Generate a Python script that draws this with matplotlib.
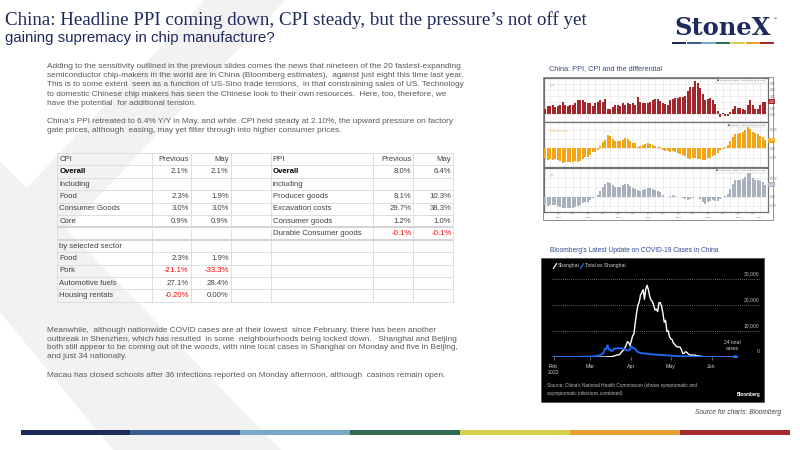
import matplotlib
matplotlib.use("Agg")
import matplotlib.pyplot as plt
import matplotlib.dates as mdates
import matplotlib.transforms as mtransforms
from matplotlib.patches import Polygon, Rectangle
import numpy as np
import pandas as pd

# ---------------- text content ----------------
title = "China: Headline PPI coming down, CPI steady, but the pressure\u2019s not off yet"
subtitle = "gaining supremacy in chip manufacture?"
para1 = [
    "Adding to the sensitivity outlined in the previous slides comes the news that nineteen of the 20 fastest-expanding",
    "semiconductor chip-makers in the world are in China (Bloomberg estimates),  against just eight this time last year.",
    "This is to some extent  seen as a function of US-Sino trade tensions,  in that constraining sales of US. Technology",
    "to domestic Chinese chip makers has seen the Chinese look to their own resources.  Here, too, therefore, we",
    "have the potential  for additional tension.",
    "",
    "China\u2019s PPI retreated to 6.4% Y/Y in May, and while  CPI held steady at 2.10%, the upward pressure on factory",
    "gate prices, although  easing, may yet filter through into higher consumer prices.",
]
para2 = [
    "Meanwhile,  although nationwide COVID cases are at their lowest  since February, there has been another",
    "outbreak in Shenzhen, which has resulted  in some  neighbourhoods being locked down.   Shanghai and Beijing",
    "both still appear to be coming out of the woods, with nine local cases in Shanghai on Monday and five in Beijing,",
    "and just 34 nationally.",
]
para3 = "Macau has closed schools after 36 infections reported on Monday afternoon, although  casinos remain open."

# ---------------- table data ----------------
table_header = ["CPI", "Previous", "May", "", "PPI", "Previous", "May"]
cpi_rows = ["Overall", "including", "Food", "Consumer Goods", "Core", "",
            "by selected sector", "Food", "Pork", "Automotive fuels", "Housing rentals"]
cpi_prev = ["2.1%", "", "2.3%", "3.0%", "0.9%", "", "", "2.3%", "-21.1%", "27.1%", "-0.20%"]
cpi_may = ["2.1%", "", "1.9%", "3.0%", "0.9%", "", "", "1.9%", "-33.3%", "28.4%", "0.00%"]
ppi_rows = ["Overall", "including", "Producer goods", "Excavation costs", "Consumer goods",
            "Durable Consumer goods"]
ppi_prev = ["8.0%", "", "8.1%", "29.7%", "1.2%", "-0.1%"]
ppi_may = ["6.4%", "", "10.3%", "38.3%", "1.0%", "-0.1%"]

# ---------------- PPI / CPI chart data (monthly, Jan 2015 - May 2022) ----------------
months = pd.date_range("2015-01-01", "2022-05-01", freq="MS")
cpi_yoy = [0.8, 1.4, 1.4, 1.5, 1.2, 1.4, 1.6, 2.0, 1.6, 1.3, 1.5, 1.6,
           1.8, 2.3, 2.3, 2.3, 2.0, 1.9, 1.8, 1.3, 1.9, 2.1, 2.3, 2.1,
           2.5, 0.8, 0.9, 1.2, 1.5, 1.5, 1.4, 1.8, 1.6, 1.9, 1.7, 1.8,
           1.5, 2.9, 2.1, 1.8, 1.8, 1.9, 2.1, 2.3, 2.5, 2.5, 2.2, 1.9,
           1.7, 1.5, 2.3, 2.5, 2.7, 2.7, 2.8, 2.8, 3.0, 3.8, 4.5, 4.5,
           5.4, 5.2, 4.3, 3.3, 2.4, 2.5, 2.7, 2.4, 1.7, 0.5, -0.5, 0.2,
           -0.3, -0.2, 0.4, 0.9, 1.3, 1.1, 1.0, 0.8, 0.7, 1.5, 2.3, 1.5,
           0.9, 0.9, 1.5, 2.1, 2.1]
ppi_yoy = [-4.3, -4.8, -4.6, -4.6, -4.6, -4.8, -5.4, -5.9, -5.9, -5.9, -5.9, -5.9,
           -5.3, -4.9, -4.3, -3.4, -2.8, -2.6, -1.7, -0.8, 0.1, 1.2, 3.3, 5.5,
           6.9, 7.8, 7.6, 6.4, 5.5, 5.5, 5.5, 6.3, 6.9, 6.9, 5.8, 4.9,
           4.3, 3.7, 3.1, 3.4, 4.1, 4.7, 4.6, 4.1, 3.6, 3.3, 2.7, 0.9,
           0.1, 0.1, 0.4, 0.9, 0.6, 0.0, -0.3, -0.8, -1.2, -1.6, -1.4, -0.5,
           0.1, -0.4, -1.5, -3.1, -3.7, -3.0, -2.4, -2.0, -2.1, -2.1, -1.5, -0.4,
           0.3, 1.7, 4.4, 6.8, 9.0, 8.8, 9.0, 9.5, 10.7, 13.5, 12.9, 10.3,
           9.1, 8.8, 8.3, 8.0, 6.4]
diff_yoy = [-5.1, -6.2, -6.0, -6.1, -5.8, -6.2, -7.0, -7.9, -7.5, -7.2, -7.4, -7.5,
            -7.1, -7.2, -6.6, -5.7, -4.8, -4.5, -3.5, -2.1, -1.8, -0.9, 1.0, 3.4,
            4.4, 7.0, 6.7, 5.2, 4.0, 4.0, 4.1, 4.5, 5.3, 5.0, 4.1, 3.1,
            2.8, 0.8, 1.0, 1.6, 2.3, 2.8, 2.5, 1.8, 1.1, 0.8, 0.5, -1.0,
            -1.6, -1.4, -1.9, -1.6, -2.1, -2.7, -3.1, -3.6, -4.2, -5.4, -5.9, -5.0,
            -5.3, -5.6, -5.8, -6.4, -6.1, -5.5, -5.1, -4.4, -3.8, -2.6, -1.0, -0.6,
            0.6, 1.9, 4.0, 5.9, 7.7, 7.7, 8.0, 8.7, 10.0, 12.0, 10.6, 8.8,
            8.2, 7.9, 6.8, 5.9, 4.3]

# ---------------- COVID chart data ----------------
sh_dates = ["2022-02-01", "2022-02-15", "2022-03-01", "2022-03-05", "2022-03-10", "2022-03-13",
            "2022-03-15", "2022-03-17", "2022-03-19", "2022-03-21", "2022-03-23", "2022-03-25",
            "2022-03-26", "2022-03-27", "2022-03-28", "2022-03-29", "2022-03-30", "2022-03-31",
            "2022-04-01", "2022-04-02", "2022-04-03", "2022-04-04", "2022-04-05", "2022-04-06",
            "2022-04-07", "2022-04-08", "2022-04-09", "2022-04-10", "2022-04-11", "2022-04-12",
            "2022-04-13", "2022-04-14", "2022-04-15", "2022-04-16", "2022-04-17", "2022-04-18",
            "2022-04-19", "2022-04-20", "2022-04-21", "2022-04-22", "2022-04-23", "2022-04-24",
            "2022-04-25", "2022-04-26", "2022-04-27", "2022-04-28", "2022-04-29", "2022-04-30",
            "2022-05-01", "2022-05-02", "2022-05-03", "2022-05-04", "2022-05-05", "2022-05-06",
            "2022-05-07", "2022-05-08", "2022-05-09", "2022-05-10", "2022-05-11", "2022-05-12",
            "2022-05-13", "2022-05-14", "2022-05-15", "2022-05-17", "2022-05-19", "2022-05-21",
            "2022-05-23", "2022-05-25", "2022-05-27", "2022-05-29", "2022-05-31", "2022-06-05",
            "2022-06-10", "2022-06-19"]
sh_cases = [5, 5, 5, 20, 75, 150,
            200, 260, 500, 900, 1000, 2300,
            2700, 3500, 4500, 6000, 5700, 4500,
            6300, 8200, 9000, 13300, 17000, 20000,
            21200, 24000, 24900, 26000, 22300, 26300,
            27700, 25900, 23400, 22000, 21500, 20000,
            18200, 18500, 17600, 21000, 21000, 19600,
            17000, 13500, 14200, 10000, 10200, 7900,
            7100, 6800, 5400, 5000, 4300, 4000,
            4000, 3900, 3000, 1500, 1450, 2100,
            2000, 1400, 940, 820, 870, 570,
            480, 290, 130, 90, 15, 10,
            10, 8]
ex_dates = ["2022-02-01", "2022-02-10", "2022-02-20", "2022-02-25", "2022-03-01", "2022-03-04",
            "2022-03-07", "2022-03-09", "2022-03-11", "2022-03-12", "2022-03-13", "2022-03-14",
            "2022-03-15", "2022-03-16", "2022-03-17", "2022-03-18", "2022-03-19", "2022-03-20",
            "2022-03-22", "2022-03-24", "2022-03-26", "2022-03-28", "2022-03-30", "2022-03-31",
            "2022-04-01", "2022-04-02", "2022-04-03", "2022-04-04", "2022-04-05", "2022-04-06",
            "2022-04-08", "2022-04-10", "2022-04-13", "2022-04-16", "2022-04-20", "2022-04-25",
            "2022-04-30", "2022-05-05", "2022-05-10", "2022-05-15", "2022-05-20", "2022-05-25",
            "2022-05-31", "2022-06-05", "2022-06-10", "2022-06-15", "2022-06-19"]
ex_cases = [100, 150, 150, 250, 300, 400,
            600, 1000, 1700, 3300, 3200, 4700,
            3000, 2900, 2400, 2500, 3400, 3300,
            3500, 3500, 3300, 2800, 2600, 3000,
            4300, 3700, 3500, 3200, 2400, 2000,
            1700, 1500, 1400, 1200, 1000, 850,
            650, 500, 400, 300, 250, 200,
            100, 60, 40, 30, 24]
covid_yticks = [0, 10000, 20000, 30000]
covid_xticks = ["2022-02-01", "2022-03-01", "2022-04-01", "2022-05-01", "2022-06-01"]
covid_xlabels = ["Feb\n2022", "Mar", "Apr", "May", "Jun"]

# ---------------- figure ----------------
W, H = 800, 450
fig = plt.figure(figsize=(8, 4.5), dpi=100)
fig.patch.set_facecolor("white")
renderer = fig.canvas.get_renderer()

NAVY = "#1f2a5c"
BODY = "#595959"
SANS = ["Liberation Sans", "DejaVu Sans"]
NARROW = ["Liberation Sans Narrow", "Liberation Sans", "DejaVu Sans"]


def px(x0, y0, x1, y1):
    return [x0 / W, 1 - y1 / H, (x1 - x0) / W, (y1 - y0) / H]


def fit_size(s, width, **kw):
    t = fig.text(0, 0, s, fontsize=10, **kw)
    w = t.get_window_extent(renderer).width
    t.remove()
    return 10.0 * width / w


bg = fig.add_axes([0, 0, 1, 1], zorder=0)
bg.set_xlim(0, W)
bg.set_ylim(H, 0)
bg.axis("off")
fg = fig.add_axes([0, 0, 1, 1], zorder=30)
fg.set_xlim(0, W)
fg.set_ylim(H, 0)
fg.axis("off")

# background chevron
GRAYBG = "#f2f2f2"
bg.add_patch(Polygon([(205, 0), (285, 0), (0, 300), (0, 216)], closed=True,
                     facecolor=GRAYBG, edgecolor="none", zorder=0.5))
bg.add_patch(Polygon([(0, 161), (281, 450), (113, 450), (0, 312)], closed=True,
                     facecolor=GRAYBG, edgecolor="none", zorder=0.5))

# titles
SERIF = ["Liberation Serif", "DejaVu Serif"]
fs = fit_size(title, 612, family=SERIF) * 0.95
bg.text(5, 20, title, fontsize=fs, family=SERIF, color=NAVY, va="center", ha="left", zorder=3)
fs = fit_size(subtitle, 272, family=SANS)
bg.text(5, 38, subtitle, fontsize=fs, family=SANS, color=NAVY, va="center", ha="left", zorder=3)

# logo
fs = fit_size("StoneX", 96, family=["DejaVu Serif"], weight="bold")
bg.text(674, 35, "StoneX", fontsize=fs, family=["DejaVu Serif"], weight="bold",
        color=NAVY, va="baseline", ha="left", zorder=3)
bg.text(773, 20, "\u2122", fontsize=3, family=SANS, color=NAVY, zorder=3)
stripe_cols = ["#1f2a5c", "#3a5f8f", "#7ba7c9", "#2e6b4f", "#d9cf4f", "#e8a030", "#a4282f"]
seg = (775 - 672) / 7
for i, c in enumerate(stripe_cols):
    bg.add_patch(Rectangle((672 + i * seg, 41.5), seg - 0.6, 2.2, facecolor=c,
                           edgecolor="none", zorder=3))

# body text
fs_body = fit_size(para1[0], 410, family=SANS)
for i, line in enumerate(para1):
    if line:
        bg.text(47, 66.7 + 9.15 * i, line, fontsize=fs_body, family=SANS, color=BODY,
                va="center", ha="left", zorder=3)
for i, line in enumerate(para2):
    bg.text(47, 330.7 + 8.5 * i, line, fontsize=fs_body, family=SANS, color=BODY,
            va="center", ha="left", zorder=3)
bg.text(47, 375.7, para3, fontsize=fs_body, family=SANS, color=BODY,
        va="center", ha="left", zorder=3)

# table
col_x = [57.3, 151.7, 190.7, 230.7, 270.7, 373.3, 413.3, 453.3]
ty0, rh, nrows = 153.0, 12.4, 12
GRID = "#d9d9d9"
for k in range(nrows + 1):
    y = ty0 + rh * k
    lw, c = (1.5, "#d4d4d4") if k in (6, 7) else (0.6, GRID)
    bg.plot([col_x[0], col_x[-1]], [y, y], color=c, lw=lw, solid_capstyle="butt", zorder=2)
for x in col_x:
    bg.plot([x, x], [ty0, ty0 + rh * nrows], color=GRID, lw=0.6, zorder=2)

fs_tab = fit_size("Durable Consumer goods", 89, family=SANS)
TXT = "#404040"


def cell(row, col, s, align, bold=False):
    if not s:
        return
    y = ty0 + rh * (row + 0.5)
    color = "#ff0000" if s.startswith("-") else ("#000000" if bold else TXT)
    if align == "left":
        x, ha = col_x[col] + 2, "left"
    else:
        x, ha = col_x[col + 1] - 2, "right"
    bg.text(x, y, s, fontsize=fs_tab, family=SANS, color=color, ha=ha, va="center",
            weight="bold" if bold else "normal", zorder=3)


for j, s in enumerate(table_header):
    cell(0, j, s, "left" if j in (0, 3, 4) else "right")
for r, (lab, pv, mv) in enumerate(zip(cpi_rows, cpi_prev, cpi_may), start=1):
    cell(r, 0, lab, "left", bold=(lab == "Overall"))
    cell(r, 1, pv, "right")
    cell(r, 2, mv, "right")
for r, (lab, pv, mv) in enumerate(zip(ppi_rows, ppi_prev, ppi_may), start=1):
    cell(r, 4, lab, "left", bold=(lab == "Overall"))
    cell(r, 5, pv, "right")
    cell(r, 6, mv, "right")

# ---------------- PPI / CPI chart ----------------
t1 = "China: PPI, CPI and the differential"
fs = fit_size(t1, 114, family=SANS)
bg.text(549, 69, t1, fontsize=fs, family=SANS, color="#3c4b7c", va="center", zorder=3)
bg.add_patch(Rectangle((543, 77), 230, 143, facecolor="white", edgecolor="#7f7f7f",
                       lw=0.6, zorder=1))

idx = np.arange(len(months))
qidx = [i for i, m in enumerate(months) if m.month in (3, 6, 9, 12)]
lidx = [i for i, m in enumerate(months) if m.month in (6, 12)]
panels = [
    (cpi_yoy, "#a0282d", (77.7, 121.7), (-1.2, 6.0), [0, 1, 2, 3, 4, 5], "CPI", "#d9a3a3",
     "CNCPIYOY Index - Last Price (R1)", 0.8),
    (diff_yoy, "#f2a516", (122.3, 167.0), (-10.1, 14.0), [-5, 0, 5, 10], "Differential",
     "#f7c46a", "PPI-CPI - Last Price (R1)", 2.6),
    (ppi_yoy, "#a9b1bc", (167.7, 211.7), (-8.1, 15.7), [-5, 0, 5, 10], "PPI", "#b0b0b0",
     "CHEFTYOY Index - Last Price (R1)", 2.6),
]
for k, (vals, col, (y0, y1), ylim, yt, lab, labcol, legtxt, gap) in enumerate(panels):
    ax = fig.add_axes(px(544, y0, 768, y1), zorder=5)
    ax.set_facecolor("white")
    ax.bar(idx, vals, width=0.78, color=col, edgecolor="none", zorder=3)
    ax.set_xlim(-0.5, 89.1)
    ax.set_ylim(*ylim)
    ax.set_yticks(yt)
    ax.yaxis.tick_right()
    ax.set_yticklabels(["" if abs(v - vals[-1]) < gap else f"{v:.2f}" for v in yt])
    ax.tick_params(axis="y", labelsize=2.0, colors="#707070", length=1, width=0.3, pad=0.5)
    ax.set_xticks(qidx)
    for v in yt:
        ax.axhline(v, color="#e4e4e4", lw=0.4, zorder=1)
    for q in qidx:
        ax.axvline(q, color="#e4e4e4", lw=0.4, zorder=1)
    for sp in ax.spines.values():
        sp.set_color("#707070")
        sp.set_linewidth(0.9)
    if k < 2:
        ax.tick_params(axis="x", length=0, labelbottom=False)
    else:
        ax.set_xticklabels([months[i].strftime("%b") if i in lidx else "" for i in qidx])
        ax.tick_params(axis="x", labelsize=1.7, colors="#606060", length=0.8, width=0.3, pad=0.3)
        tr = mtransforms.blended_transform_factory(ax.transData, ax.transAxes)
        for yr in sorted(set(m.year for m in months)):
            ii = [i for i, m in enumerate(months) if m.year == yr]
            ax.text(np.mean(ii), -0.115, str(yr), transform=tr, fontsize=1.7,
                    color="#606060", ha="center", va="top")
        ax.text(0.0, -0.165, "Bloomberg China PPI / CPI YoY monthly", transform=ax.transAxes,
                fontsize=1.5, color="#888888", ha="left", va="top")
        ax.text(0.62, -0.165, "Copyright\u00a9 2022 Bloomberg Finance L.P.", transform=ax.transAxes,
                fontsize=1.5, color="#888888", ha="center", va="top")
    ax.text(0.025, 0.86, lab, transform=ax.transAxes, fontsize=2.4, color=labcol,
            ha="left", va="top")
    ax.text(0.985, 0.95, "\u25a0 " + legtxt + f" {vals[-1]:.2f}", transform=ax.transAxes,
            fontsize=1.7, color="#555555", ha="right", va="top",
            bbox=dict(facecolor="white", edgecolor="#c0c0c0", lw=0.3, pad=0.6))
    ax.text(1.003, vals[-1], f"{vals[-1]:.2f}",
            transform=mtransforms.blended_transform_factory(ax.transAxes, ax.transData),
            fontsize=2.0, color="white", ha="left", va="center", clip_on=False, zorder=6,
            bbox=dict(facecolor=col, edgecolor="none", pad=0.4))

# ---------------- COVID chart ----------------
ct = "Bloomberg\u2019s Latest Update on COVID-19 Cases in China"
fs = fit_size(ct, 167, family=SANS)
bg.text(550, 250.7, ct, fontsize=fs, family=SANS, color="#2e4a8a", va="center", zorder=3)
bg.add_patch(Rectangle((541, 258), 223, 144, facecolor="black", edgecolor="#555555",
                       lw=0.6, zorder=1))

feb1 = pd.Timestamp("2022-02-01")
cax = fig.add_axes(px(552, 279.3, 760, 357.3), zorder=6)
cax.patch.set_alpha(0)
x0 = mdates.date2num(feb1) - 1.2
x1 = mdates.date2num(feb1) + 156.7
cax.set_xlim(x0, x1)
cax.set_ylim(0, 30000)
for sp in cax.spines.values():
    sp.set_visible(False)
cax.set_yticks([])
for v in covid_yticks[1:]:
    cax.axhline(v, color="#8a8a8a", lw=0.6, ls=(0, (1, 1.5)), zorder=1, clip_on=False)
cax.axhline(0, color="#9a9a9a", lw=0.6, zorder=1)
fs_c = fit_size("Total ex Shanghai", 40, family=NARROW)
blend = mtransforms.blended_transform_factory(cax.transAxes, cax.transData)
for v in covid_yticks:
    cax.text(0.997, v + 1200, f"{v:,}", transform=blend, fontsize=fs_c, family=NARROW,
             color="#bfbfbf", ha="right", va="bottom", clip_on=False)
cax.plot(pd.to_datetime(sh_dates), sh_cases, color="white", lw=1.0, zorder=3)
cax.plot(pd.to_datetime(ex_dates), ex_cases, color="#1f6bff", lw=1.3, zorder=4)
cax.plot(pd.to_datetime(ex_dates[-1:]), ex_cases[-1:], "o", color="#1f6bff", ms=2.6, zorder=5)
cax.set_xticks(pd.to_datetime(covid_xticks))
cax.set_xticklabels(covid_xlabels, family=NARROW, fontsize=fs_c * 1.05, color="#cfcfcf",
                    linespacing=1.35)
cax.tick_params(axis="x", length=2, width=0.5, color="#9a9a9a", pad=2.5)
cax.text(mdates.date2num(pd.Timestamp(ex_dates[-1])) - 2, 2600, "24 total\ncases",
         fontsize=fs_c, family=NARROW, color="#d0d0d0", ha="center", va="bottom",
         linespacing=1.2)

# legend
fg.plot([553.5, 556.5], [268.3, 263.8], color="white", lw=0.9)
fg.text(558, 266, "Shanghai", fontsize=fs_c, family=NARROW, color="#d6d6d6", va="center")
fg.plot([580.5, 583.5], [268.3, 263.8], color="#1f6bff", lw=0.9)
fg.text(585, 266, "Total ex Shanghai", fontsize=fs_c, family=NARROW, color="#d6d6d6",
        va="center")

src = "Source: China\u2019s National Health Commission (shows symptomatic and"
fs_s = fit_size(src, 148, family=NARROW)
fg.text(547.3, 385.7, src, fontsize=fs_s, family=NARROW, color="#bdbdbd", va="center")
fg.text(547.3, 393.2, "asymptomatic infections combined)", fontsize=fs_s, family=NARROW,
        color="#bdbdbd", va="center")
fs_b = fit_size("Bloomberg", 24, family=NARROW, weight="bold")
fg.text(760.7, 394.3, "Bloomberg", fontsize=fs_b, family=NARROW, weight="bold",
        color="white", ha="right", va="center")

# source + bottom stripe
sc = "Source for charts: Bloomberg"
fs = fit_size(sc, 86, family=SANS, style="italic")
bg.text(781, 413, sc, fontsize=fs, family=SANS, style="italic", color="#404040",
        ha="right", va="center", zorder=3)
bounds = [20.5, 129.7, 239.5, 349.7, 460, 569.7, 679.5, 789.7]
for i, c in enumerate(stripe_cols):
    bg.add_patch(Rectangle((bounds[i], 429.5), bounds[i + 1] - bounds[i], 5.2, facecolor=c,
                           edgecolor="none", zorder=3))

fig.savefig("out.png", dpi=100, facecolor="white")
